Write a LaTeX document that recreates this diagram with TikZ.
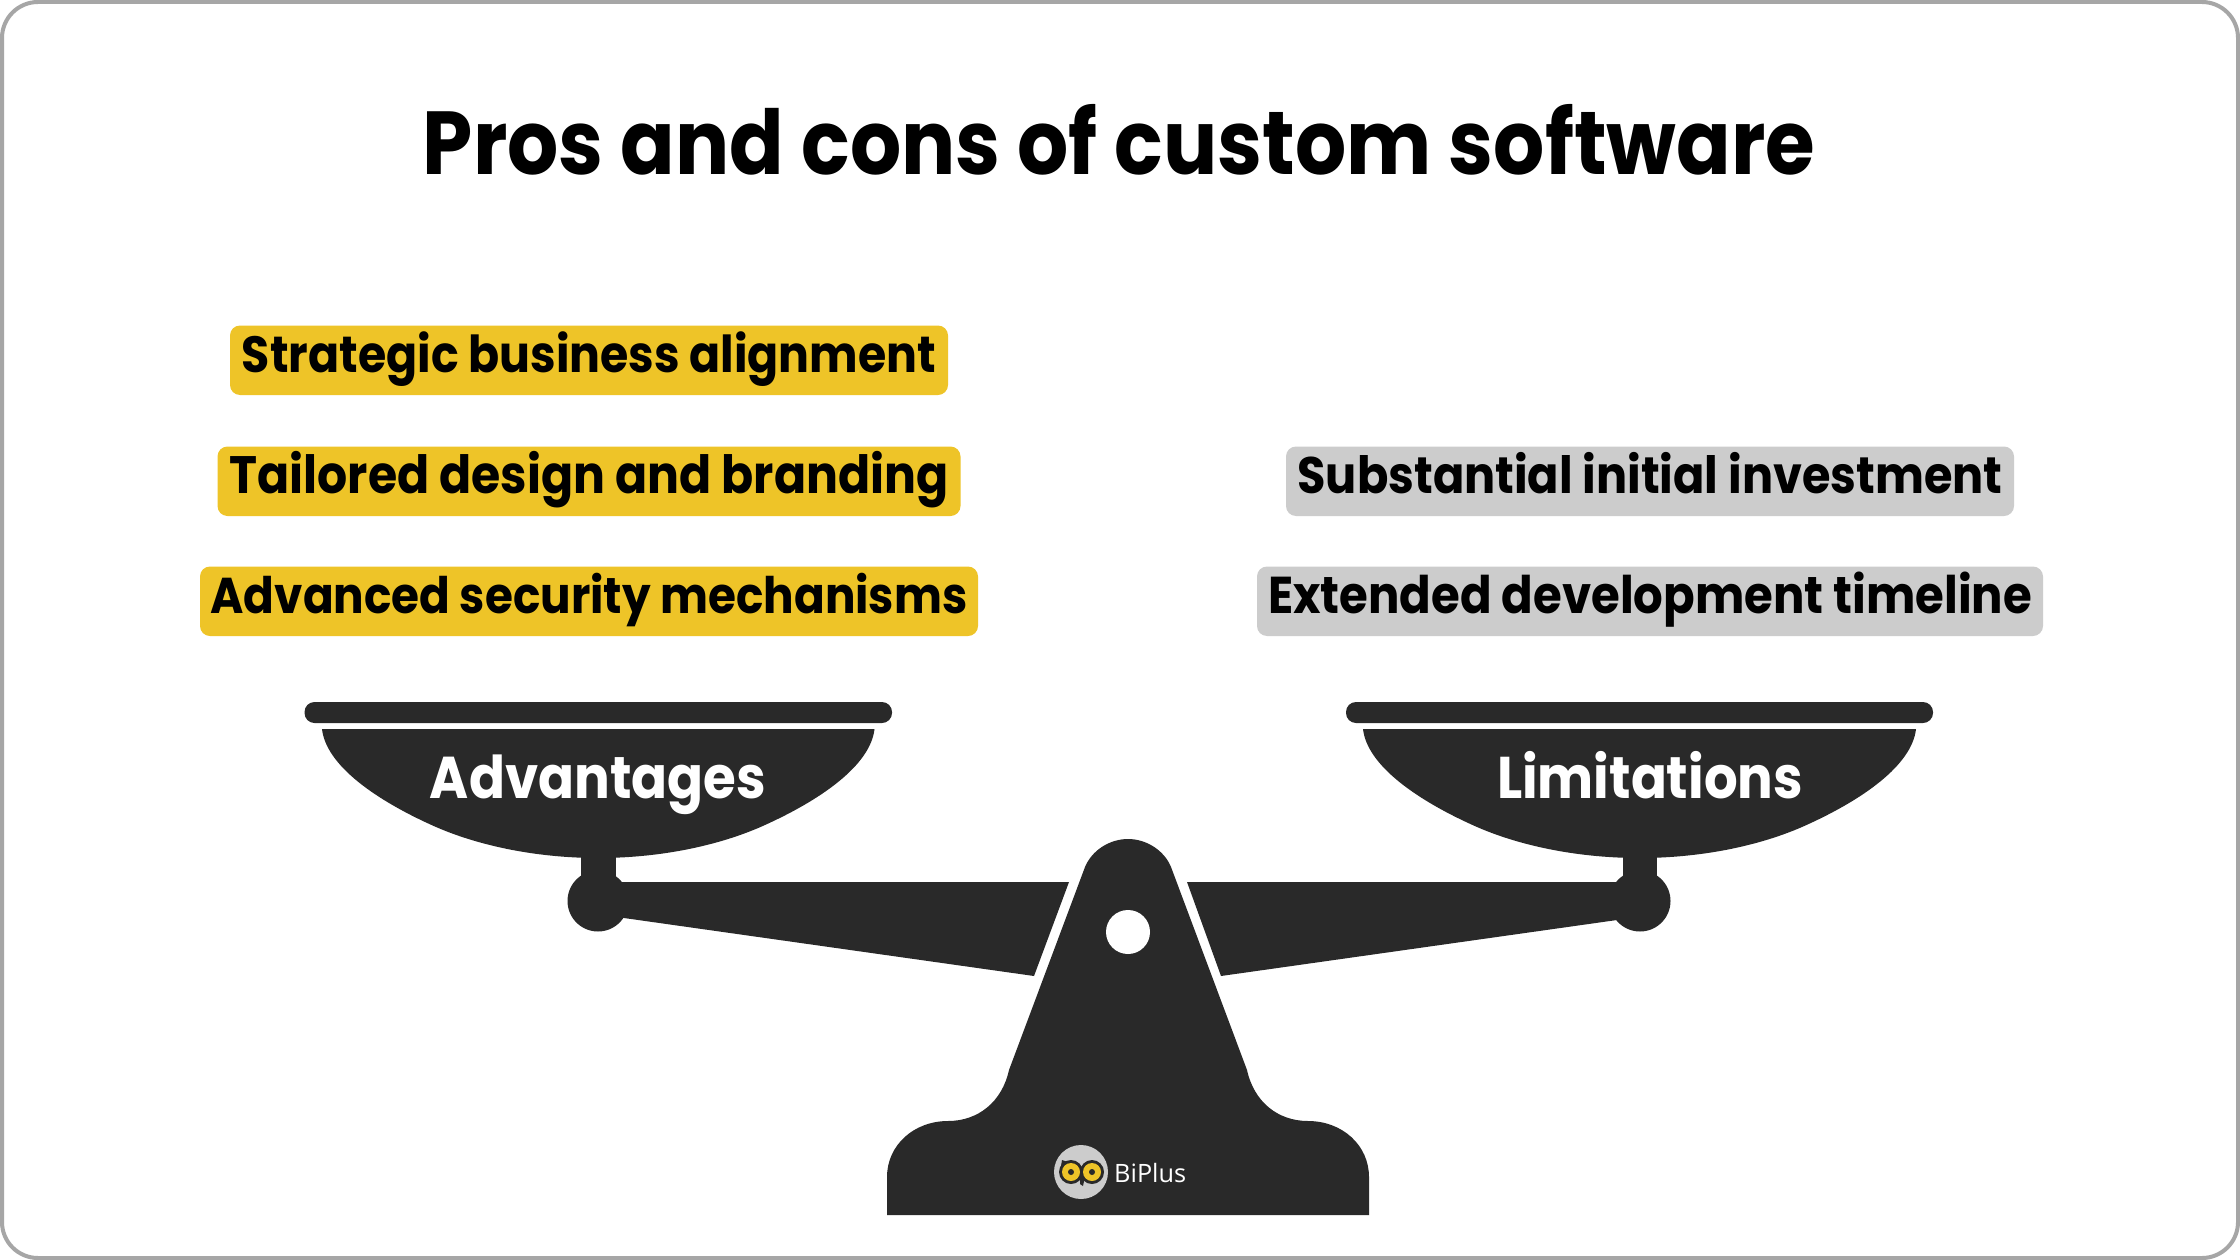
\documentclass[tikz,border=0pt]{standalone}
\usepackage{graphicx}
\usepackage{fontspec}
\setmainfont{Poppins}
\newfontfamily\headfont[FakeStretch=0.9]{Poppins Bold}
\newfontfamily\logofont{Open Sans}
\definecolor{ink}{HTML}{292929}
\definecolor{pro}{HTML}{EEC428}
\definecolor{con}{HTML}{CCCCCC}
\definecolor{edge}{HTML}{A6A6A6}
\newcommand\fitw[2]{\resizebox{#1pt}{!}{\headfont\fontsize{50}{60}\selectfont #2}}
\tikzset{
  x=1pt,y=-1pt,
  pill/.style={rounded corners=10pt,inner sep=0pt,anchor=base,text height=46.5pt,text depth=23pt,text=black},
  probox/.style={pill,fill=pro},
  conbox/.style={pill,fill=con},
  panlabel/.style={inner sep=0pt,anchor=base,text=white},
  solid ink/.style={fill=ink,draw=none},
}
\begin{document}
\begin{tikzpicture}
\useasboundingbox (0,0) rectangle (2240,1260);
\draw[edge,line width=4pt,fill=white,rounded corners=36pt] (2,2) rectangle (2238,1258);
\node[inner sep=0pt,anchor=base] (title) at (1119,175) {\fitw{1392}{Pros and cons of custom software}};
\node[probox,minimum width=718pt] (p1) at (589,372) {\fitw{694}{Strategic business alignment}};
\node[probox,minimum width=743pt] (p2) at (589,493) {\fitw{719}{Tailored design and branding}};
\node[probox,minimum width=778pt] (p3) at (589,613) {\fitw{757}{Advanced security mechanisms}};
\node[conbox,minimum width=728pt] (c1) at (1650,493) {\fitw{705}{Substantial initial investment}};
\node[conbox,minimum width=786pt] (c2) at (1650,613) {\fitw{764}{Extended development timeline}};
% left pan
\fill[solid ink,rounded corners=10pt] (304.5,702) rectangle (892,723);
\fill[solid ink] (322,729) -- (874.5,729) .. controls (870.5,765) and (821.5,800) .. (760.5,827)
  .. controls (714.5,847) and (656.5,858) .. (598.25,858)
  .. controls (540,858) and (482,847) .. (436,827)
  .. controls (375,800) and (326,765) .. (322,729) -- cycle;
\fill[solid ink] (581,850) rectangle (615.5,885);
\fill[solid ink] (598,901) circle[radius=30.5];
\fill[solid ink] (610,882) -- (1069,882) -- (1034,976) -- (624,918) -- (600,915) -- cycle;
% right pan
\fill[solid ink,rounded corners=10pt] (1346,702) rectangle (1933,723);
\fill[solid ink] (1363,729) -- (1916,729) .. controls (1912,765) and (1863,800) .. (1802,827)
  .. controls (1756,847) and (1698,858) .. (1639.5,858)
  .. controls (1581,858) and (1523,847) .. (1477,827)
  .. controls (1416,800) and (1367,765) .. (1363,729) -- cycle;
\fill[solid ink] (1622.5,850) rectangle (1657,885);
\fill[solid ink] (1640,901) circle[radius=30.5];
\fill[solid ink] (1630,882) -- (1187,882) -- (1221,976) -- (1617,920) -- (1640,915) -- cycle;
% fulcrum
\fill[solid ink] (887,1215) -- (887,1177) .. controls (887,1145) and (914,1121) .. (948,1121)
  .. controls (978,1121) and (1002,1102) .. (1009,1070) -- (1085,867)
  .. controls (1092,850) and (1110,839) .. (1128,839) .. controls (1146,839) and (1164,850) .. (1171,867)
  -- (1247,1070) .. controls (1254,1102) and (1278,1121) .. (1308,1121)
  .. controls (1342,1121) and (1369,1145) .. (1369,1177) -- (1369,1215) -- cycle;
\fill[white] (1128,932) circle[radius=22];
\node[panlabel] (adv) at (598,798) {\fitw{336}{Advantages}};
\node[panlabel] (lim) at (1650,798) {\fitw{306}{Limitations}};
% logo
\fill[con] (1081,1172) circle[radius=27];
\fill[ink] (1062,1160) -- (1068,1162) -- (1070,1172) -- (1060,1172) -- cycle;
\fill[ink] (1080,1172) -- (1086,1172) -- (1083,1186) -- (1080,1184) -- cycle;
\fill[ink] (1071,1172) circle[radius=12];
\fill[ink] (1092,1172) circle[radius=12];
\fill[pro] (1071,1172) circle[radius=9];
\fill[pro] (1092,1172) circle[radius=9];
\fill[ink] (1071,1172) circle[radius=3];
\fill[ink] (1092,1172) circle[radius=3];
\node[inner sep=0pt,anchor=base west,text=white] (brand) at (1114,1182) {\resizebox{72pt}{!}{\logofont\fontsize{25}{30}\selectfont BiPlus}};
\end{tikzpicture}
\end{document}
